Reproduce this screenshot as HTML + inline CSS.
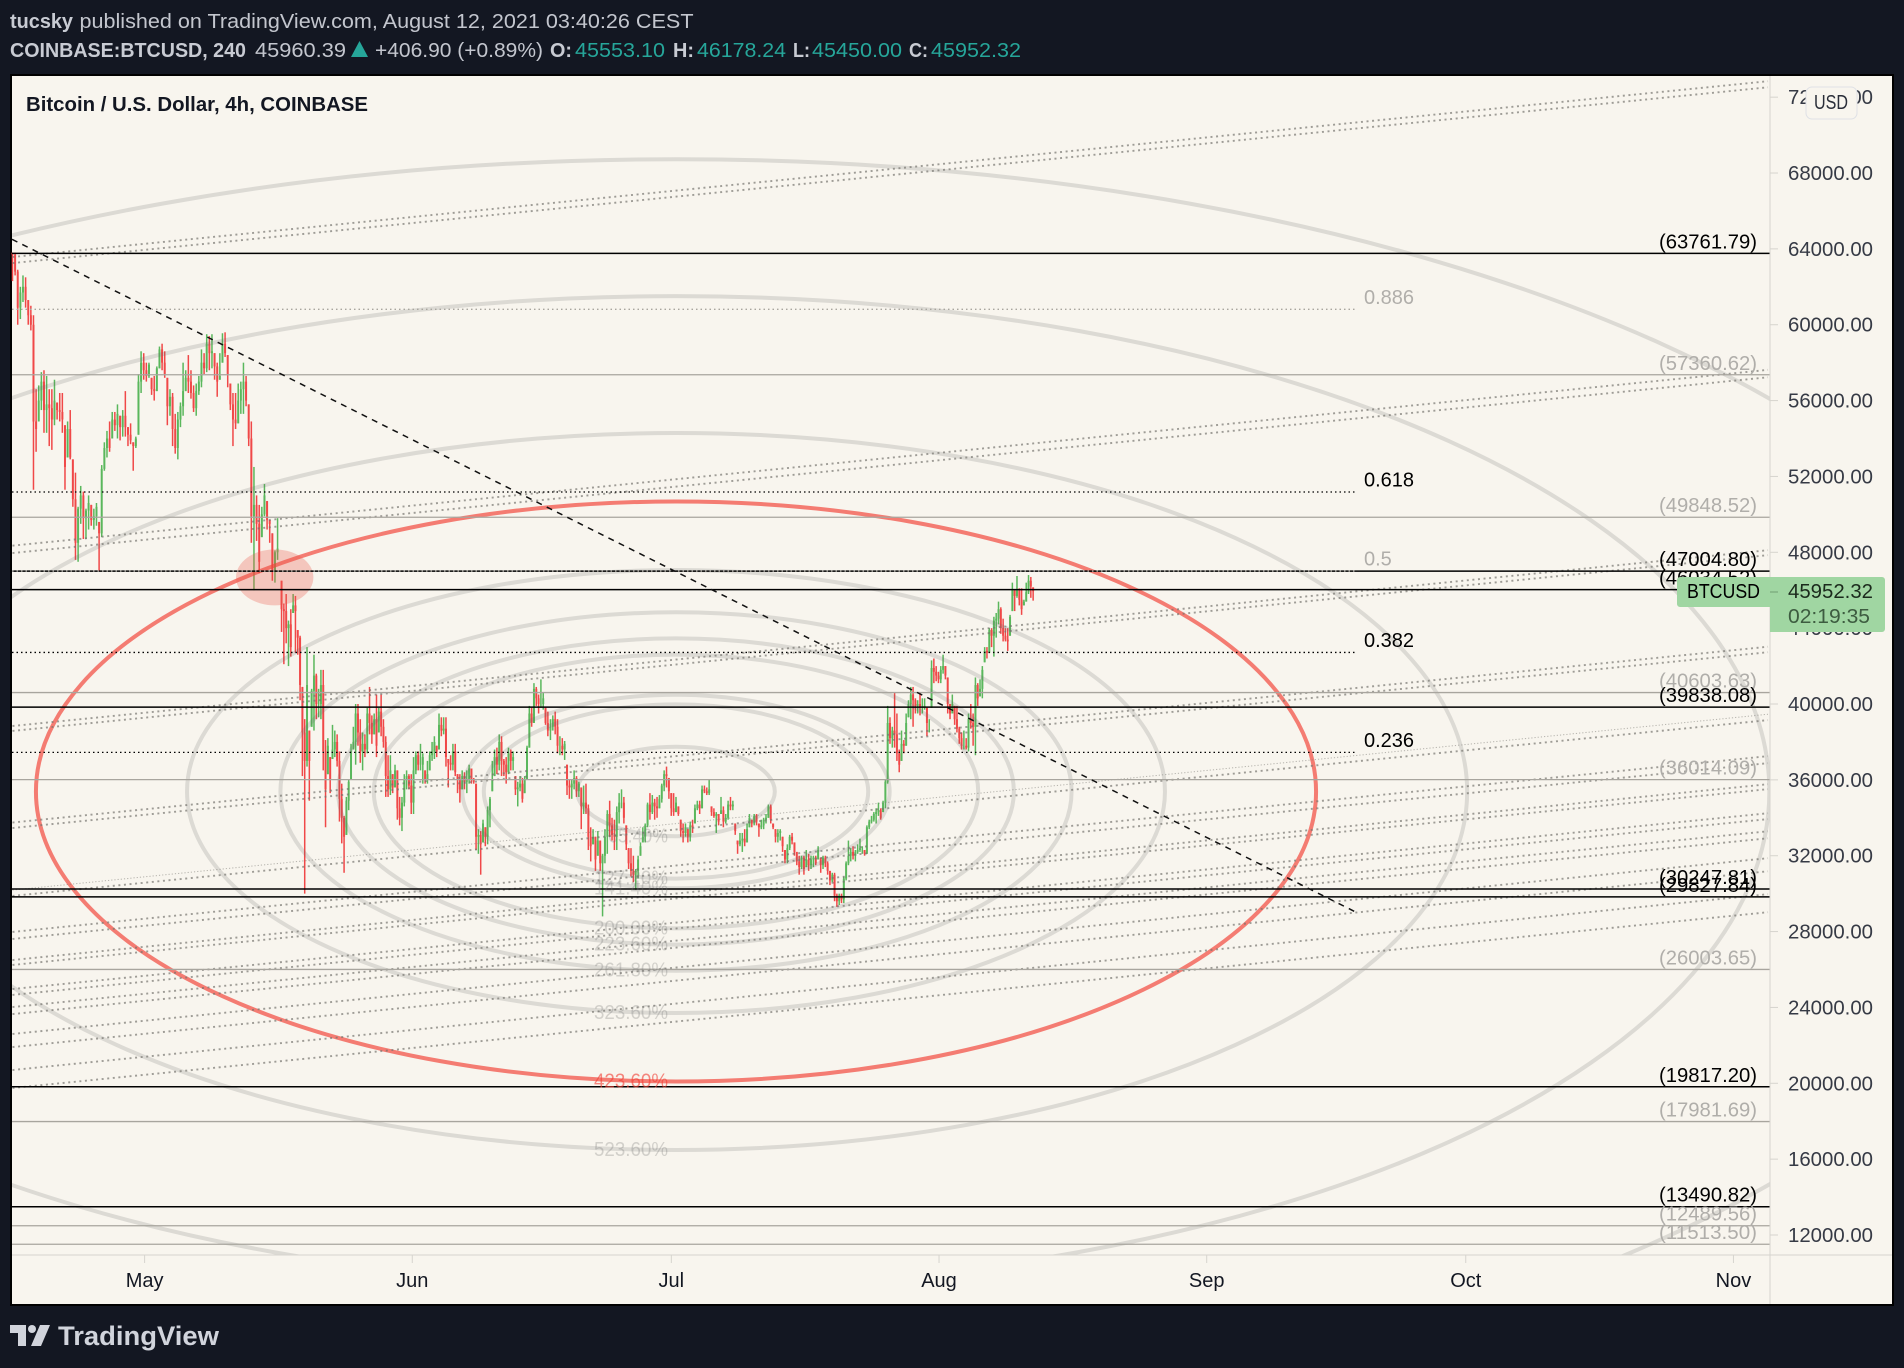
<!DOCTYPE html>
<html lang="en">
<head>
<meta charset="utf-8">
<title>BTCUSD chart</title>
<style>
html,body{margin:0;padding:0;background:#131722;width:1904px;height:1368px;overflow:hidden}
svg{display:block}
text{font-family:"Liberation Sans",sans-serif}
</style>
</head>
<body>
<svg id="chart" xmlns="http://www.w3.org/2000/svg" width="1904" height="1368" viewBox="0 0 1904 1368">
  <defs>
    <clipPath id="plot-clip"><rect x="12" y="76" width="1758" height="1179"/></clipPath>
  </defs>
  <rect x="0" y="0" width="1904" height="1368" fill="#131722"/>

  <text x="10" y="28" font-size="20" font-weight="700" fill="#c8cbd3" textLength="63" lengthAdjust="spacingAndGlyphs">tucsky</text>
  <text x="79.5" y="28" font-size="20" fill="#c3c6ce" textLength="614" lengthAdjust="spacingAndGlyphs">published on TradingView.com, August 12, 2021 03:40:26 CEST</text>

  <g font-size="20">
    <text x="10" y="57" font-weight="700" fill="#c8cbd3" textLength="236" lengthAdjust="spacingAndGlyphs">COINBASE:BTCUSD, 240</text>
    <text x="255" y="57" fill="#c3c6ce" textLength="91" lengthAdjust="spacingAndGlyphs">45960.39</text>
    <polygon points="351,57 368,57 359.5,41" fill="#26a69a"/>
    <text x="375" y="57" fill="#c3c6ce" textLength="168" lengthAdjust="spacingAndGlyphs">+406.90 (+0.89%)</text>
    <text x="550" y="57" font-weight="700" fill="#c8cbd3" textLength="22" lengthAdjust="spacingAndGlyphs">O:</text>
    <text x="575" y="57" fill="#26a69a" textLength="90" lengthAdjust="spacingAndGlyphs">45553.10</text>
    <text x="673" y="57" font-weight="700" fill="#c8cbd3" textLength="21" lengthAdjust="spacingAndGlyphs">H:</text>
    <text x="697" y="57" fill="#26a69a" textLength="89" lengthAdjust="spacingAndGlyphs">46178.24</text>
    <text x="793" y="57" font-weight="700" fill="#c8cbd3" textLength="17" lengthAdjust="spacingAndGlyphs">L:</text>
    <text x="812" y="57" fill="#26a69a" textLength="90" lengthAdjust="spacingAndGlyphs">45450.00</text>
    <text x="909" y="57" font-weight="700" fill="#c8cbd3" textLength="19" lengthAdjust="spacingAndGlyphs">C:</text>
    <text x="931" y="57" fill="#26a69a" textLength="90" lengthAdjust="spacingAndGlyphs">45952.32</text>
  </g>

  <rect x="11" y="75" width="1882" height="1230" fill="#f8f5ee" stroke="#000" stroke-width="2"/>

  <g id="candles"></g>
  <g id="drawings" clip-path="url(#plot-clip)"></g>
  <g id="axes"></g>
  <g id="level-labels"></g>

  <text x="26" y="111" font-size="20" font-weight="700" fill="#131722" textLength="342" lengthAdjust="spacingAndGlyphs">Bitcoin / U.S. Dollar, 4h, COINBASE</text>

  <g>
    <rect x="1806" y="87" width="51" height="32" rx="6" fill="#f8f5ee" stroke="#dfe1e6" stroke-width="1"/>
    <text x="1814" y="109" font-size="20" fill="#2a2e39" textLength="34" lengthAdjust="spacingAndGlyphs">USD</text>
  </g>

  <g>
    <path d="M1680 577H1882a3 3 0 0 1 3 3V629a3 3 0 0 1 -3 3H1770V607H1680a3 3 0 0 1 -3 -3V580a3 3 0 0 1 3 -3Z" fill="#a0d6a2"/>
    <text x="1687" y="598" font-size="20" fill="#000" textLength="73" lengthAdjust="spacingAndGlyphs">BTCUSD</text>
    <line x1="1770" y1="592" x2="1778" y2="592" stroke="#6f9f71" stroke-width="1"/>
    <text x="1788" y="598" font-size="20" fill="#1b2a1c" textLength="85" lengthAdjust="spacingAndGlyphs">45952.32</text>
    <text x="1788" y="623" font-size="20" fill="#3d5c40" textLength="82" lengthAdjust="spacingAndGlyphs">02:19:35</text>
  </g>

  <g>
    <polygon points="10,1325 26,1325 26,1346 18,1346 18,1333 10,1333" fill="#d1d4dc"/>
    <circle cx="32" cy="1329" r="4" fill="#d1d4dc"/>
    <polygon points="40,1325 50,1325 41,1346 31,1346" fill="#d1d4dc"/>
    <text x="58" y="1345" font-size="27" font-weight="700" fill="#d1d4dc" textLength="161" lengthAdjust="spacingAndGlyphs">TradingView</text>
  </g>
</svg>

<script>
// Price candles, 8-hourly readings in thousands of USD, four stretches of the chart.
const segmentStartDays = [-15.3, 15.86, 47.0, 78.3];
const segmentEndDays = [15.4, 46.7, 78.0, 102.9];

const closesA = [63.7,62.8,60.9,61.7,62.0,61.3,60.5,60.0,54.9,54.5,
56.0,57.0,55.5,55.8,55.6,55.0,56.0,55.5,55.4,55.0,
52.5,54.5,53.0,50.8,48.5,50.3,51.0,49.8,50.2,50.6,
49.7,49.9,50.4,49.0,52.4,53.5,54.0,53.5,55.0,54.7,
55.3,54.6,55.2,54.6,54.2,53.9,53.6,54.0,57.0,58.0,
57.6,57.3,57.9,56.6,56.5,57.7,58.7,58.0,57.4,55.7,
56.2,54.5,53.5,55.0,55.7,56.5,57.2,57.0,56.4,55.6,
56.5,57.0,58.0,57.7,59.0,58.5,58.6,57.8,57.0,57.3,
59.0,58.5,57.4,55.8,55.0,54.8,56.0,56.6,57.0,56.0,
54.0,49.9,50.5,49.5,47.5,50.0,51.0,49.7,49.5,47.0,
48.0,48.2];
const highsA = [63.8,63.8,62.9,62.0,62.6,62.5,61.3,61.0,60.5,56.6,
56.8,57.5,57.6,57.3,56.6,56.6,57.1,55.9,56.4,56.4,
54.7,54.9,55.5,52.9,52.2,50.4,51.5,51.2,50.3,51.0,
50.5,50.3,50.6,49.6,52.6,53.8,54.4,54.9,55.4,55.4,
55.8,55.2,55.5,56.5,54.6,54.8,53.8,54.1,57.4,58.6,
58.5,58.0,58.0,57.2,57.3,57.8,58.85,59.0,58.6,57.2,
56.6,56.4,55.3,55.4,55.9,58.0,57.6,58.4,57.6,56.8,
56.9,57.3,58.7,58.5,59.5,59.4,59.5,58.5,58.0,58.5,
59.55,59.6,58.4,56.9,56.4,56.4,56.9,57.0,58.0,57.3,
55.8,54.9,52.5,51.0,50.5,50.4,51.6,50.7,49.7,49.0,
48.1,49.8];
const lowsA = [62.3,62.6,60.0,60.3,61.2,60.9,60.0,59.7,51.3,53.3,
54.9,55.5,54.3,54.3,53.6,53.4,54.7,55.0,54.9,54.3,
51.3,53.0,52.9,50.4,47.6,47.5,49.5,48.7,48.7,49.2,
49.4,49.2,49.4,47.0,48.8,52.3,53.0,53.3,54.0,54.4,
54.0,53.9,54.1,54.1,53.6,53.7,52.3,53.5,54.2,56.4,
57.1,57.0,57.2,56.3,56.0,56.5,57.7,57.6,57.2,54.7,
55.2,53.6,53.2,52.9,54.6,55.2,56.5,56.4,56.1,55.4,
55.2,56.3,56.7,57.4,57.5,57.6,57.7,57.1,56.2,57.1,
58.0,58.3,56.7,55.5,53.6,54.5,54.8,55.3,55.3,55.7,
53.6,48.5,46.0,48.6,46.9,48.8,49.9,49.2,48.5,46.5,
46.4,47.6];

const closesB = [45.0,44.9,44.0,44.2,43.0,45.2,44.9,43.5,41.0,38.5,
37.0,41.0,37.0,40.7,41.5,40.0,40.0,41.0,37.5,35.5,
37.8,36.0,37.6,38.0,37.0,35.0,34.0,33.0,34.9,35.9,
37.5,38.0,39.5,38.5,37.5,37.9,37.6,39.5,39.0,38.4,
39.2,37.8,39.6,38.8,38.0,36.2,35.5,36.5,35.6,36.5,
34.5,34.0,34.8,36.0,36.2,35.7,34.8,36.5,37.3,36.8,
36.8,37.2,36.0,36.3,37.3,37.5,38.0,37.5,38.9,38.6,
38.7,37.2,36.9,36.8,37.5,36.4,36.0,35.5,36.2,35.9,
36.0,36.6,36.0,35.9,33.0,33.1,32.6,33.7,33.0,34.4,
35.0,36.0,37.2,36.8,38.0,37.0,36.8,36.4,37.4,37.0,
37.2,35.5,35.6,35.8,35.0,36.0,37.7,39.5,39.0,40.8,
40.3,40.0,40.0,40.3,39.0,38.6];
const highsB = [46.5,45.3,45.8,44.4,45.0,45.8,45.7,43.9,43.6,40.9,
39.2,43.0,38.6,40.8,42.6,41.6,40.8,41.8,41.8,38.1,
38.2,37.2,38.9,38.6,38.4,37.5,35.8,34.1,35.1,36.0,
37.9,38.8,40.0,40.0,39.2,38.5,38.4,39.8,40.9,39.4,
39.5,40.5,39.8,40.5,39.2,38.3,37.3,37.3,36.3,36.8,
36.5,35.1,35.1,36.3,36.5,36.3,36.3,37.2,37.5,37.5,
37.9,37.4,36.5,37.0,37.5,38.0,38.3,37.8,39.5,39.3,
39.3,39.3,37.1,37.3,37.9,37.9,36.3,36.3,36.5,36.4,
36.5,36.8,36.6,36.1,35.8,33.4,33.3,33.9,33.5,34.6,
35.1,37.0,37.6,37.7,38.4,38.3,37.1,37.2,37.7,37.6,
37.5,36.2,35.9,36.2,36.1,36.2,37.8,39.9,39.8,41.1,
40.9,40.5,41.3,40.6,39.8,39.6];
const lowsB = [43.8,42.1,43.2,42.0,42.5,44.8,42.7,42.6,40.2,36.2,
30.0,36.7,34.9,38.8,38.6,39.2,39.3,39.2,36.5,33.5,
36.3,35.3,37.1,37.2,36.7,33.8,32.65,31.1,33.1,34.4,
36.0,37.6,36.8,37.8,36.9,36.5,37.2,37.4,38.4,37.9,
38.4,37.2,38.5,38.3,37.7,35.1,35.1,35.2,35.3,35.6,
33.9,33.6,33.3,34.6,35.5,35.5,34.2,34.2,36.3,36.5,
36.5,35.8,35.8,35.8,36.5,37.0,37.1,37.2,37.6,38.3,
38.4,36.7,35.6,36.5,36.5,36.2,35.3,34.8,35.5,35.5,
35.3,35.8,35.8,35.8,32.3,32.1,31.0,32.7,32.5,32.6,
33.5,35.4,36.2,36.3,36.5,36.2,36.2,35.8,36.3,36.5,
36.5,35.2,34.6,35.4,34.8,35.3,36.0,37.7,38.8,39.0,
39.9,39.5,39.8,39.7,38.9,38.3];

const closesC = [38.8,39.2,38.8,37.8,37.8,37.6,37.9,35.7,35.6,35.8,
36.1,35.4,35.8,34.6,34.8,34.5,33.0,32.5,33.0,31.8,
32.8,31.6,32.0,33.0,34.2,33.6,33.1,33.0,34.3,34.8,
34.8,34.0,32.6,31.6,31.2,31.0,31.2,31.8,32.5,33.0,
33.6,34.7,34.3,34.8,34.6,34.5,35.0,35.7,36.3,36.2,
35.4,34.5,34.3,34.8,34.2,33.3,33.2,33.5,33.0,33.6,
33.5,34.5,34.7,34.5,35.5,35.4,35.3,35.5,34.3,34.1,
34.2,33.8,34.4,33.8,34.0,34.7,34.6,34.7,33.3,32.6,
32.8,32.9,32.7,33.4,34.0,33.7,34.1,33.8,33.5,33.6,
33.9,34.0,34.6,33.9,33.5,33.0,33.2,33.3,32.5,31.8,
32.4,33.0,32.8,32.2,31.7,31.4,31.9,31.3,31.8,31.5,
31.8,31.9,31.6,32.3];
const highsC = [39.2,39.4,39.6,39.2,38.3,38.2,38.05,36.8,36.0,36.0,
36.5,36.2,35.9,35.6,35.7,35.8,34.7,33.5,33.4,33.0,
33.3,32.8,32.1,33.4,34.4,34.9,34.0,33.9,34.6,35.3,
35.5,35.1,33.6,32.4,32.4,32.0,31.3,32.0,32.7,33.5,
33.7,34.8,35.3,35.2,35.0,35.1,35.2,35.8,36.5,36.7,
36.1,35.3,35.3,35.1,34.6,33.9,33.7,33.7,33.4,33.8,
33.9,34.7,34.9,34.9,35.7,35.7,35.6,36.0,34.6,34.5,
34.3,34.2,35.1,34.6,34.2,34.9,35.1,34.9,33.7,32.8,
33.2,33.2,33.4,33.7,34.2,33.9,34.2,34.2,33.7,33.9,
34.0,34.2,34.7,34.7,33.7,33.4,33.4,33.4,33.0,32.3,
32.6,33.1,33.2,32.7,32.2,32.0,32.0,32.0,32.3,32.1,
32.0,32.0,32.0,32.5];
const lowsC = [38.1,38.6,38.4,37.4,37.3,37.3,37.05,35.2,35.0,35.0,
35.5,35.1,35.1,33.4,34.2,34.2,32.3,31.7,32.6,31.2,
32.0,31.2,28.8,31.6,32.1,33.0,32.8,32.3,32.3,33.7,
34.5,33.7,32.3,31.3,30.9,30.6,30.2,30.8,32.0,32.7,
32.7,33.5,33.9,34.2,33.9,34.0,34.5,34.8,35.4,35.6,
35.0,34.1,34.1,34.3,34.1,33.0,32.7,33.0,32.7,32.75,
33.2,33.7,34.4,34.2,34.5,35.3,35.2,35.2,34.1,34.0,
33.2,33.6,34.2,33.5,33.7,33.9,34.4,34.4,33.1,32.1,
32.5,32.2,32.5,32.7,33.5,33.5,33.6,33.6,33.0,33.4,
33.4,33.7,34.0,33.7,33.4,32.7,32.7,32.8,32.2,31.6,
31.6,32.3,32.6,32.0,31.5,31.0,31.3,31.0,31.4,31.2,
31.3,31.4,31.5,31.8];

const closesD = [31.5,31.9,31.6,31.2,30.7,31.0,29.9,29.6,29.9,29.7,
30.8,31.6,32.0,32.2,32.0,32.2,32.3,32.4,32.4,32.1,
33.5,33.8,33.9,34.2,34.3,34.4,34.0,34.8,35.9,39.0,
38.2,38.6,38.4,37.4,36.8,37.9,37.8,39.0,40.0,40.5,
40.2,39.9,40.0,39.8,39.8,39.9,39.0,39.0,41.9,41.7,
41.5,41.3,41.8,42.0,41.5,40.0,39.5,40.0,39.2,38.7,
38.2,37.8,37.8,37.7,39.2,39.0,38.8,41.0,40.3,40.8,
41.8,42.8,42.7,43.9,43.6,44.4,44.5,45.0,44.0,43.6,
43.4,43.3,44.6,46.0,45.7,46.0,45.5,45.0,45.4,45.9,
46.5,46.2,45.95];
const highsD = [31.9,32.0,32.0,31.7,31.2,31.1,31.1,30.0,30.0,30.0,
30.9,31.7,32.8,32.4,32.5,32.3,32.6,32.9,32.5,32.3,
33.6,33.9,34.1,34.3,34.5,34.8,34.5,34.9,36.0,39.9,
39.3,38.8,40.6,39.5,37.6,38.6,38.1,39.5,40.2,40.9,
40.9,40.3,40.2,40.6,40.3,40.3,39.8,39.2,42.3,42.4,
42.0,41.7,42.0,42.6,42.0,41.4,40.0,40.5,39.9,39.9,
38.8,38.5,38.6,38.2,39.5,40.0,39.5,41.4,41.1,41.3,
42.0,43.0,43.0,44.0,44.0,44.6,44.8,45.4,45.1,44.5,
44.0,44.0,44.7,46.4,46.0,46.75,46.1,46.1,45.5,46.4,
46.8,46.7,46.15];
const lowsD = [31.1,31.3,31.4,31.0,30.45,30.6,29.6,29.3,29.4,29.5,
29.5,30.7,31.5,31.7,31.8,31.7,32.1,32.2,32.1,32.0,
32.1,33.4,33.7,33.8,33.7,34.1,33.9,34.3,34.5,35.8,
37.9,37.7,37.7,37.0,36.4,37.0,37.4,37.8,39.3,39.2,
38.8,39.5,39.5,39.4,39.5,39.7,38.3,38.5,39.8,41.1,
41.2,41.1,41.1,41.6,41.3,39.5,39.2,39.5,38.9,38.5,
37.9,37.6,37.6,37.6,37.5,38.7,37.8,37.3,39.9,40.4,
40.3,42.2,42.4,42.7,43.0,42.5,43.5,44.2,43.7,43.3,
43.3,42.8,43.6,44.9,44.9,45.6,45.2,44.7,45.2,45.4,
45.8,45.6,45.45];

// Axis ticks
const priceTicks = [72000,68000,64000,60000,56000,52000,48000,44000,40000,36000,32000,28000,24000,20000,16000,12000];
const monthLabels = ["May","Jun","Jul","Aug","Sep","Oct","Nov"];
const monthDays = [0,31,61,92,123,153,184];

// Horizontal levels
const blackLevels = [63761.79,47004.80,46034.52,39838.08,30247.81,29827.84,19817.20,13490.82];
const grayLevels = [57360.62,49848.52,40603.63,36014.09,26003.65,17981.69,12489.56,11513.50];
const fibLabels = ["0.886","0.618","0.5","0.382","0.236"];
const fibPrices = [60812,51180,47010,42720,37450];
const fibDark = [false,true,false,true,true];

// Elliptical Fibonacci levels
const ringLevels = [0.654,1.272,1.414,2,2.236,2.618,3.236,4.236,5.236,7.236,9.236];
const ringLabels = ["65.40%","127.20%","141.40%","200.00%","223.60%","261.80%","323.60%","423.60%","523.60%","",""];
const ringHighlight = 4.236;

// Rising channel lines: price (thousands) at the left edge of the plot
const fanStartPrices = [63.57,63.25,48.35,47.96,38.84,38.58,33.75,33.46,29.88,27.98,27.61,26.5,26.24,24.97,24.66,24.02,23.65,22.6,21.91,20.7,19.75];
const fanFinePrices = [30.19];
const fanSlopePerDay = 45.6;

// Axis functions
const pxPerDay = 8.635;
const pxPerUsd = 0.018964;
function xAt(day){ return 144.6 + day * pxPerDay; }
function yAt(price){ return 1235 - (price - 12000) * pxPerUsd; }

const NS = "http://www.w3.org/2000/svg";
const candleLayer = document.getElementById("candles");
const drawLayer = document.getElementById("drawings");
const axisLayer = document.getElementById("axes");
const labelLayer = document.getElementById("level-labels");

function make(tag, attrs, parent, txt){
  const el = document.createElementNS(NS, tag);
  for (const k in attrs) el.setAttribute(k, attrs[k]);
  if (txt !== undefined) el.textContent = txt;
  parent.appendChild(el);
  return el;
}

// ---- candles ----
const closeSets = [closesA, closesB, closesC, closesD];
const highSets = [highsA, highsB, highsC, highsD];
const lowSets = [lowsA, lowsB, lowsC, lowsD];
let prevClose = closesA[0] + 0.1;
closeSets.forEach(function(closes, s){
  const highs = highSets[s], lows = lowSets[s];
  const n = Math.min(closes.length, highs.length, lows.length);
  const d0 = segmentStartDays[s], d1 = segmentEndDays[s];
  for (let i = 0; i < n; i++){
    const day = d0 + (d1 - d0) * i / (n - 1);
    const o = prevClose, c = closes[i], h = highs[i], l = lows[i];
    const color = c >= o ? "#5ab75c" : "#f04848";
    const x = xAt(day);
    const wick = make("line", {x1:x, x2:x, y1:yAt(h*1000), y2:yAt(l*1000), stroke:color, "stroke-width":1.5}, candleLayer);
    
    
    const top = Math.min(Math.max(o, c), h), bottom = Math.max(Math.min(o, c), l);
    const body = make("line", {x1:x, x2:x, y1:yAt(top*1000), y2:yAt(bottom*1000), stroke:color, "stroke-width":2}, candleLayer);
    
    
    prevClose = c;
  }
});

// ---- ellipses ----
const ringCenterX = 676, ringCenterY = 791.5, ringUnitX = 151.1, ringUnitY = 68.46;
ringLevels.forEach(function(level){
  const hot = level === ringHighlight;
  const ring = make("ellipse", {cx:ringCenterX, cy:ringCenterY, rx:level*ringUnitX, ry:level*ringUnitY, fill:"none",
    stroke: hot ? "rgba(242,60,50,0.66)" : "rgba(100,100,100,0.19)", "stroke-width":4}, drawLayer);
  
  
});
const spot = make("ellipse", {cx:274.7, cy:577.4, rx:38.7, ry:28, fill:"rgba(235,90,75,0.3)"}, drawLayer);



// ---- channel lines ----
const fanFromDay = -15.3, fanToDay = 188;
fanStartPrices.forEach(function(p){
  const a = p*1000, b = a + (fanToDay - fanFromDay)*fanSlopePerDay;
  const ln = make("line", {x1:xAt(fanFromDay), y1:yAt(a), x2:xAt(fanToDay), y2:yAt(b), stroke:"rgba(115,113,108,0.68)", "stroke-width":1.9, "stroke-dasharray":"2 3.6"}, drawLayer);
  
  
});
fanFinePrices.forEach(function(p){
  const a = p*1000, b = a + (fanToDay - fanFromDay)*fanSlopePerDay;
  const ln = make("line", {x1:xAt(fanFromDay), y1:yAt(a), x2:xAt(fanToDay), y2:yAt(b), stroke:"rgba(125,123,118,0.55)", "stroke-width":1, "stroke-dasharray":"1.2 2"}, drawLayer);
  
  
});

// ---- horizontal levels ----
grayLevels.forEach(function(p){
  const ln = make("line", {x1:12, x2:1770, y1:yAt(p), y2:yAt(p), stroke:"#a8a59e", "stroke-width":1.3}, drawLayer);
  
  
});
blackLevels.forEach(function(p){
  const ln = make("line", {x1:12, x2:1770, y1:yAt(p), y2:yAt(p), stroke:"#000", "stroke-width":1.5}, drawLayer);
  
  
});
fibPrices.forEach(function(p, i){
  const ln = make("line", {x1:12, x2:1357, y1:yAt(p), y2:yAt(p), stroke: fibDark[i] ? "#000" : "#a8a59e", "stroke-width":1.3, "stroke-dasharray":"1.5 3"}, drawLayer);
  
  
  const t = make("text", {x:1364, y:yAt(p)-5.5, "font-size":20, fill: fibDark[i] ? "#000" : "#b0aeaa"}, labelLayer, fibLabels[i]);
  
  
});

// ---- level value labels ----
grayLevels.forEach(function(p){
  const t = make("text", {x:1659, y:yAt(p)-5, "font-size":20, fill:"#b0aeaa", textLength:98, lengthAdjust:"spacingAndGlyphs"}, labelLayer, "(" + p.toFixed(2) + ")");
  
  
});
blackLevels.forEach(function(p){
  const t = make("text", {x:1659, y:yAt(p)-5, "font-size":20, fill:"#000", textLength:98, lengthAdjust:"spacingAndGlyphs"}, labelLayer, "(" + p.toFixed(2) + ")");
  
  
});

// ---- ellipse percentage labels ----
ringLevels.forEach(function(level, i){
  if (!ringLabels[i]) return;
  const hot = level === ringHighlight;
  const wide = ringLabels[i].length === 7 ? 74 : 60;
  const t = make("text", {x:668 - wide, y:ringCenterY + level*ringUnitY + 6, "font-size":20, textLength:wide, lengthAdjust:"spacingAndGlyphs",
    fill: hot ? "rgba(242,60,50,0.6)" : "rgba(110,110,110,0.28)"}, labelLayer, ringLabels[i]);
  
  
});

// ---- dashed trend line ----
const trend = make("line", {x1:12, y1:239.3, x2:1357.6, y2:913, stroke:"#111", "stroke-width":1.5, "stroke-dasharray":"6 5.5"}, drawLayer);



// ---- axes ----
const priceAxisLine = make("line", {x1:1770, x2:1770, y1:76, y2:1304, stroke:"#d6d4ce", "stroke-width":1}, axisLayer);


const timeAxisLine = make("line", {x1:12, x2:1892, y1:1255, y2:1255, stroke:"#d6d4ce", "stroke-width":1}, axisLayer);



priceTicks.forEach(function(p){
  const y = yAt(p);
  const tick = make("line", {x1:1770, x2:1778, y1:y, y2:y, stroke:"#d6d4ce", "stroke-width":1}, axisLayer);
  
  
  const t = make("text", {x:1788, y:y+7, "font-size":20, fill:"#363a45", textLength:85, lengthAdjust:"spacingAndGlyphs"}, axisLayer, p.toFixed(2));
  
  
});

monthLabels.forEach(function(m, i){
  const x = xAt(monthDays[i]);
  const tick = make("line", {x1:x, x2:x, y1:1255, y2:1263, stroke:"#d6d4ce", "stroke-width":1}, axisLayer);
  
  
  const t = make("text", {x:x, y:1287, "font-size":20, fill:"#131722", "text-anchor":"middle"}, axisLayer, m);
  
  
});
</script>
</body>
</html>
